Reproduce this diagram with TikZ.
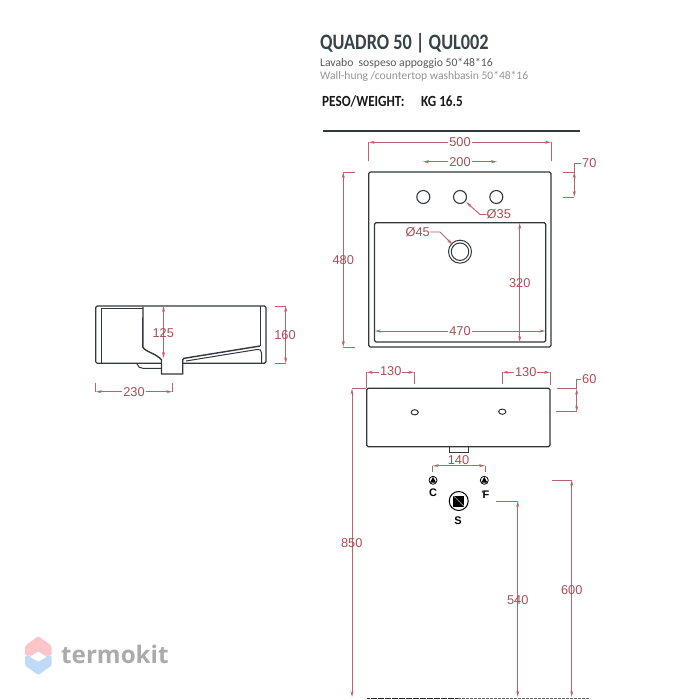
\documentclass[tikz,border=0pt]{standalone}
\usepackage{fontspec}
\setmainfont{Liberation Sans}
\newfontfamily\titlefont{Carlito}
\newfontfamily\titlebold[FakeStretch=0.83]{Carlito Bold}
\newfontfamily\pesofont[FakeStretch=0.85]{Carlito Bold}
\newfontfamily\markfont{Open Sans}
\usetikzlibrary{arrows.meta}
\definecolor{dimred}{HTML}{B8646A}
\definecolor{dimtext}{HTML}{A84E55}
\definecolor{ink}{HTML}{33383C}
\definecolor{markpink}{HTML}{FBC5CA}
\definecolor{markblue}{HTML}{BFD9F8}
\definecolor{headcol}{HTML}{374347}
\tikzset{
  dimline/.style={draw=dimred,line width=.95pt},
  dimboth/.style={dimline,{Stealth[length=6pt,width=3pt]}-{Stealth[length=6pt,width=3pt]}},
  dimend/.style={dimline,-{Stealth[length=6pt,width=3pt]}},
  dimlabel/.style={text=dimtext,inner sep=0pt,font=\fontsize{12.8}{12.8}\selectfont},
  dimcut/.style={dimlabel,fill=white,inner xsep=1pt,inner ysep=1pt},
  body/.style={draw=ink,line width=1.2pt,rounded corners=1.5pt},
  thinbody/.style={draw=ink,line width=1pt},
  tap/.style={circle,draw=ink,line width=1.1pt,minimum size=13pt,inner sep=0pt},
  connpt/.style={circle,draw=black,line width=.8pt,fill=white,minimum size=8pt,inner sep=0pt},
  letter/.style={inner sep=0pt,font=\bfseries\fontsize{11}{11}\selectfont,text=black},
  head/.style={anchor=base west,inner sep=0pt}
}
\begin{document}
\begin{tikzpicture}[x=1pt,y=-1pt]
\useasboundingbox (0,0) rectangle (700,700);
\fill[white] (0,0) rectangle (700,700);

% heading
\node[head,text=headcol,font=\titlebold\fontsize{22}{22}\selectfont] (title) at (320,49.3) {QUADRO 50 | QUL002};
\node[head,text=black!65,font=\titlefont\fontsize{11.65}{11.65}\selectfont] (sub1) at (320,66.5) {Lavabo\ \ sospeso appoggio 50*48*16};
\node[head,text=black!42,font=\titlefont\fontsize{11.55}{11.55}\selectfont] (sub2) at (320,79.8) {Wall-hung /countertop washbasin 50*48*16};
\node[head,text=black!90,font=\pesofont\fontsize{15.5}{15.5}\selectfont] (peso) at (322,106.7) {PESO/WEIGHT:};
\node[head,text=black!90,font=\pesofont\fontsize{15.5}{15.5}\selectfont] (kg) at (421,106.7) {KG 16.5};
\draw[ink,line width=1.1pt] (323,131) -- (580,131);

% top view
\draw[body] (368.7,172) rectangle (551,347);
\draw[body] (374.5,222.7) rectangle (545.7,342);
\node[tap] (h1) at (423.3,197) {};
\node[tap] (h2) at (460,197) {};
\node[tap] (h3) at (496.3,197) {};
\node[circle,draw=ink,line width=1pt,minimum size=23pt,inner sep=0pt] (drainA) at (460,251.7) {};
\node[circle,draw=ink,line width=1pt,minimum size=17.5pt,inner sep=0pt] (drainB) at (460,251.7) {};

% top view dimensions
\coordinate (a1) at (368.7,142.3); \coordinate (a2) at (551,142.3);
\draw[dimline] (368.7,161.5) -- (a1);
\draw[dimline] (551,161.5) -- (a2);
\draw[dimboth] (a1) -- (a2);
\node[dimcut] (d500) at (460,142) {500};
\draw[dimboth] (423,161.7) -- (497,161.7);
\node[dimcut] (d200) at (460,161.7) {200};

\draw[dimline] (563,172) -- (574.3,172) -- (574.3,163) -- (581,163);
\draw[dimline] (563,197) -- (574.3,197);
\draw[dimboth] (574.3,172) -- (574.3,197);
\node[dimlabel,anchor=west] (d70) at (582,163) {70};

\draw[dimline] (355,172) -- (343.3,172);
\draw[dimline] (355,347) -- (343.3,347);
\draw[dimboth] (343.3,172) -- (343.3,347);
\node[dimlabel] (d480) at (343.3,260) {480};

\node[dimlabel,anchor=west] (d35) at (486.5,214.5) {Ø35};
\draw[dimend] (d35.west) -- (480,214.5) -- (466.3,202.2);
\node[dimlabel,anchor=east] (d45) at (430,232) {Ø45};
\draw[dimend] (d45.east) -- (440,232) -- (452.5,244.5);

\draw[dimboth] (519.7,223) -- (519.7,342);
\node[dimlabel] (d320) at (519.7,283) {320};
\draw[dimboth] (374.8,331) -- (545.4,331);
\node[dimcut] (d470) at (460,331) {470};

% side view
\draw[body] (95.7,306) rectangle (266,363.3);
\draw[thinbody] (101,363) -- (101,308) -- (143,308);
\draw[ink,line width=1.4pt] (143,307) -- (142.8,347) .. controls (145,352) and (156,353) .. (161.5,360) -- (161.5,374) -- (182.7,374) -- (182.7,360) .. controls (183,358.5) and (184,358) .. (186,358) -- (260,346);
\draw[thinbody] (186,361) -- (257,349.5) .. controls (260,349) and (261.5,350) .. (261.5,353) -- (261.5,363);
\draw[thinbody] (260,306) -- (260,346);
\fill[white] (162.3,362.3) rectangle (181.9,364.3);
\draw[thinbody] (137,364) .. controls (138,367) and (140,368.3) .. (143,368.3) -- (161,368.3);

% side view dimensions
\draw[dimboth] (163.5,306) -- (163.5,358);
\node[dimlabel] (d125) at (163.3,332.7) {125};
\draw[dimline] (275,306) -- (285.7,306);
\draw[dimline] (275,363.3) -- (285.7,363.3);
\draw[dimboth] (285.7,306) -- (285.7,363.3);
\node[dimlabel] (d160) at (285,335) {160};
\draw[dimline] (95.7,383) -- (95.7,391.7);
\draw[dimline] (172.3,383) -- (172.3,391.7);
\draw[dimboth] (95.7,391.7) -- (172.3,391.7);
\node[dimcut] (d230) at (134,392) {230};

% front view
\draw[body] (366.7,388.3) rectangle (550,446.7);
\draw[thinbody] (414.7,412.3) ellipse [x radius=3.6,y radius=2.6];
\draw[thinbody] (502.3,411.7) ellipse [x radius=3.6,y radius=2.6];
\draw[thinbody] (449,446.7) -- (449,452.3) -- (468.7,452.3) -- (468.7,446.7);

% front view dimensions
\draw[dimline] (366.7,388) -- (366.7,372.3);
\draw[dimline] (414.3,384) -- (414.3,372.3);
\draw[dimboth] (366.7,372.3) -- (414.3,372.3);
\node[dimcut] (d130a) at (390.7,371.5) {130};
\draw[dimline] (502.3,384) -- (502.3,372.3);
\draw[dimline] (550,385) -- (550,372.3);
\draw[dimboth] (502.3,372.3) -- (550,372.3);
\node[dimcut] (d130b) at (525.7,372) {130};
\draw[dimline] (557.3,388.7) -- (576.7,388.7) -- (576.7,379) -- (581,379);
\draw[dimline] (556,411.7) -- (576.7,411.7);
\draw[dimboth] (576.7,388.7) -- (576.7,411.7);
\node[dimlabel,anchor=west] (d60) at (582,379) {60};

\draw[dimline] (432.7,471.7) -- (432.7,465.7);
\draw[dimline] (485,471.7) -- (485,465.7);
\draw[dimboth] (432.7,465.7) -- (485,465.7);
\node[dimlabel] (d140) at (458.5,460.5) {140};

% connection points
\node[connpt] (c) at (433,480.3) {};
\node[connpt] (f) at (484.3,480.3) {};
\fill[black] (433,477) -- (436,482.5) -- (430,482.5) -- cycle;
\fill[black] (484.3,477) -- (487.3,482.5) -- (481.3,482.5) -- cycle;
\node[letter] (lc) at (433,492.7) {C};
\node[letter] (lf) at (486,495) {F};
\draw[black,line width=.8pt] (482,490.5) -- (482.4,492.5);
\node[circle,draw=black,line width=1pt,minimum size=19pt,inner sep=0pt] (s) at (458.7,501) {};
\fill[black] (453.2,495.5) rectangle (464.2,506.5);
\draw[white,line width=.4pt] (453.5,495.8) -- (463.9,506.2);
\node[letter] (ls) at (458,521) {S};

% heights
\draw[dimline] (366,388.6) -- (352,388.6);
\draw[dimboth] (352,388.6) -- (352,697);
\node[dimlabel] (d850) at (351.7,543) {850};
\draw[dimline] (496,501) -- (517.7,501);
\draw[dimboth] (517.7,501) -- (517.7,697);
\node[dimlabel] (d540) at (517.7,600.3) {540};
\draw[dimline] (552.3,480) -- (571.7,480);
\draw[dimboth] (571.7,480) -- (571.7,697);
\node[dimlabel] (d600) at (571.7,590) {600};

% floor
\draw[black!85,line width=1pt,dash pattern=on 3pt off .5pt] (367.3,698.7) -- (458,698.7);
\draw[black!60,line width=.7pt,dash pattern=on 3pt off 1pt] (458,698.7) -- (589,698.7);

% watermark
\fill[markpink,rounded corners=1.5pt] (25,655.7) -- (25,646) -- (38.3,636) -- (51.7,646) -- (51.7,655.7) -- cycle;
\fill[markblue,rounded corners=1.5pt] (25,655.7) -- (25,665.5) -- (38.3,675) -- (51.7,665.5) -- (51.7,655.7) -- cycle;
\fill[white] (30,657) -- (38.3,651.5) -- (46.5,657) -- (38.3,661.5) -- cycle;
\node[anchor=base west,inner sep=0pt,text=black!33,font=\markfont\bfseries\fontsize{24.2}{24.2}\selectfont] (mark) at (61,663.5) {termokit};
\end{tikzpicture}
\end{document}
